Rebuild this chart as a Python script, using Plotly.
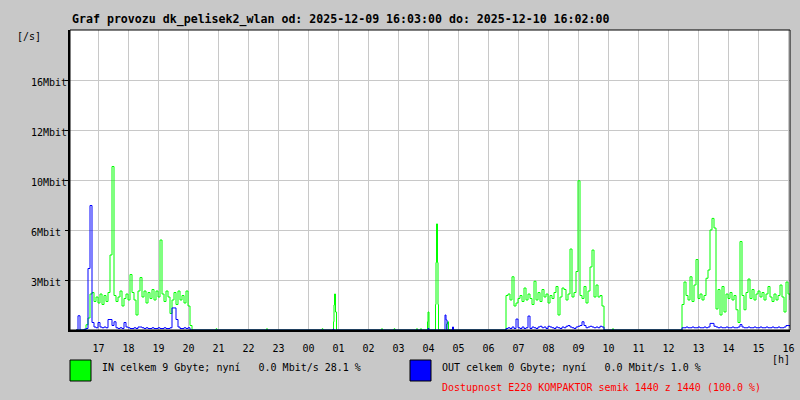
import pandas as pd
import plotly.graph_objects as go

# ---------------- data (Mbit/s) ----------------
STEP = "4min"

blk1_start = "2025-12-09 16:15"
blk1_in = [0, 0, 0, 0, 0, 0.35, 0.8, 2.4, 2.5, 1.9, 2.2, 1.8, 2.4, 1.7, 2.3, 1.9,
           2.5, 5.0, 10.9, 2.3, 1.9, 2.2, 2.6, 1.6, 2.1, 2.4, 2.0, 3.7, 2.5, 2.0,
           1.0, 2.6, 3.5, 2.2, 2.6, 1.8, 2.5, 2.1, 2.7, 2.0, 2.6, 2.2, 6.0, 2.4,
           1.9, 2.6, 2.2, 1.1, 2.0, 2.5, 1.7, 2.6, 2.0, 2.3, 1.8, 2.6, 1.6, 0.3, 0]
blk1_out = [0, 0.95, 0, 0, 0.05, 0.1, 4.1, 8.3, 0.5, 0.2, 0.15, 0.5, 0.2, 0.15, 0.2,
            0.15, 0.7, 0.7, 0.3, 0.55, 0.15, 0.1, 0.15, 0.1, 0.5, 0.2, 0.15, 0.1,
            0.1, 0.15, 0.1, 0.2, 0.2, 0.15, 0.1, 0.15, 0.1, 0.1, 0.15, 0.1, 0.1,
            0.15, 0.1, 0.1, 0.15, 0.1, 0.1, 0.15, 1.47, 1.47, 0.7, 0.2, 0.1, 0.1,
            0.15, 0.1, 0.15, 0, 0]

blk2_start = "2025-12-10 06:35"
blk2_in = [2.3, 2.4, 2.0, 3.55, 1.6, 1.8, 2.1, 2.3, 1.9, 2.8, 2.0, 2.4, 2.1, 1.7,
           3.25, 2.0, 2.5, 1.9, 2.7, 2.2, 2.4, 1.8, 2.3, 2.1, 2.5, 2.9, 1.0, 2.2,
           2.8, 2.7, 2.0, 2.4, 5.4, 2.2, 2.5, 3.9, 9.95, 2.3, 2.1, 2.9, 1.8, 2.6,
           4.2, 5.33, 2.2, 3.0, 2.2, 2.3, 1.6, 0]
blk2_out = [0.1, 0.15, 0.1, 0.2, 0.1, 0.73, 0.15, 0.1, 0.2, 0.1, 0.15, 0.93, 0.1,
            0.2, 0.15, 0.1, 0.2, 0.25, 0.15, 0.2, 0.1, 0.25, 0.2, 0.15, 0.1, 0.2,
            0.15, 0.1, 0.2, 0.15, 0.25, 0.3, 0.2, 0.15, 0.1, 0.2, 0.25, 0.3, 0.55,
            0.3, 0.15, 0.2, 0.25, 0.2, 0.15, 0.2, 0.15, 0.25, 0.2, 0]

blk3_start = "2025-12-10 12:27"
blk3_in = [1.7, 3.2, 2.3, 2.0, 3.55, 1.9, 3.0, 4.7, 2.1, 2.4, 2.0, 2.3, 3.45, 4.0,
           6.67, 7.44, 6.8, 1.4, 2.7, 1.0, 2.9, 1.2, 2.4, 2.1, 2.5, 2.0, 2.3, 1.35,
           0.5, 5.9, 2.3, 1.35, 2.5, 3.4, 2.1, 2.7, 2.0, 2.4, 2.6, 2.2, 2.5, 2.0,
           2.4, 2.9, 2.2, 1.9, 2.4, 2.0, 2.3, 3.0, 2.2, 1.2, 3.2, 2.4, 2.0]
blk3_out = [0.15, 0.15, 0.2, 0.15, 0.15, 0.2, 0.15, 0.15, 0.2, 0.15, 0.15, 0.2,
            0.15, 0.2, 0.44, 0.44, 0.25, 0.2, 0.15, 0.2, 0.15, 0.15, 0.2, 0.15,
            0.15, 0.2, 0.15, 0.15, 0.2, 0.36, 0.2, 0.15, 0.15, 0.2, 0.15, 0.15,
            0.2, 0.15, 0.15, 0.2, 0.15, 0.15, 0.2, 0.15, 0.15, 0.2, 0.15, 0.15,
            0.2, 0.15, 0.15, 0.2, 0.3, 0.3, 0.15]

sparse_in_t = ["2025-12-09 20:55", "2025-12-09 20:57", "2025-12-09 22:36", "2025-12-09 22:38",
               "2025-12-10 00:27", "2025-12-10 00:29",
               "2025-12-10 00:50", "2025-12-10 00:51", "2025-12-10 00:52", "2025-12-10 00:54",
               "2025-12-10 00:56",
               "2025-12-10 02:26", "2025-12-10 02:28", "2025-12-10 02:51", "2025-12-10 02:53",
               "2025-12-10 03:36", "2025-12-10 03:38", "2025-12-10 03:44", "2025-12-10 03:46",
               "2025-12-10 03:58", "2025-12-10 03:59", "2025-12-10 04:01",
               "2025-12-10 04:14", "2025-12-10 04:15", "2025-12-10 04:16", "2025-12-10 04:18",
               "2025-12-10 04:19", "2025-12-10 04:20",
               "2025-12-10 04:36", "2025-12-10 04:38", "2025-12-10 04:40",
               "2025-12-10 10:08", "2025-12-10 10:10"]
sparse_in_v = [0.08, 0, 0.08, 0, 0.08, 0,
               0.55, 1.67, 2.4, 1.2, 0,
               0.08, 0, 0.08, 0, 0.08, 0, 0.08, 0,
               0.55, 1.2, 0,
               1.7, 4.5, 7.07, 4.5, 1.7, 0,
               0.4, 0.55, 0,
               0.08, 0]

sparse_out_t = ["2025-12-10 00:49", "2025-12-10 00:51", "2025-12-10 03:59", "2025-12-10 04:01",
                "2025-12-10 04:33", "2025-12-10 04:35", "2025-12-10 04:37",
                "2025-12-10 04:48", "2025-12-10 04:50"]
sparse_out_v = [0.05, 0, 0.1, 0, 1.0, 0.67, 0, 0.2, 0]

x_start = "2025-12-09 16:03"
x_end = "2025-12-10 16:03"
y_tick_vals = [10 / 3, 20 / 3, 10, 40 / 3, 50 / 3]
y_tick_text = ["3Mbit", "6Mbit", "10Mbit", "12Mbit", "16Mbit"]

title_text = "Graf provozu dk_pelisek2_wlan od: 2025-12-09 16:03:00 do: 2025-12-10 16:02:00"
in_text = "IN celkem 9 Gbyte; nyní   0.0 Mbit/s 28.1 %"
out_text = "OUT celkem 0 Gbyte; nyní   0.0 Mbit/s 1.0 %"
avail_text = "Dostupnost E220 KOMPAKTOR semik 1440 z 1440 (100.0 %)"


def build(blocks, st, sv):
    parts = []
    for start, vals in blocks:
        t = pd.date_range(start, periods=len(vals), freq=STEP)
        parts.append(pd.Series(vals, index=t))
    parts.append(pd.Series(sv, index=pd.to_datetime(st)))
    s = pd.concat(parts).sort_index()
    return s


s_in = build([(blk1_start, blk1_in), (blk2_start, blk2_in), (blk3_start, blk3_in)],
             sparse_in_t, sparse_in_v)
s_out = build([(blk1_start, blk1_out), (blk2_start, blk2_out), (blk3_start, blk3_out)],
              sparse_out_t, sparse_out_v)

FONT = "DejaVu Sans Mono"
BG = "#c8c8c8"
GRID = "#c8c8c8"

fig = go.Figure()
fig.add_trace(go.Scatter(x=s_in.index, y=s_in.values, mode="lines",
                         line=dict(color="#00ff00", width=1, shape="hv"),
                         showlegend=False, hoverinfo="skip"))
fig.add_trace(go.Scatter(x=s_out.index, y=s_out.values, mode="lines",
                         line=dict(color="#0000ff", width=1, shape="hv"),
                         showlegend=False, hoverinfo="skip"))

L, R, T, B = 70, 790, 30, 330


def px(x):
    return (x - L) / (R - L)


def py(y):
    return (B - y) / (B - T)


fig.update_layout(
    width=800, height=400,
    margin=dict(l=L, r=800 - R, t=T, b=400 - B, pad=0, autoexpand=False),
    paper_bgcolor=BG, plot_bgcolor="white",
    font=dict(family=FONT, size=10, color="black"),
    xaxis=dict(type="date", range=[x_start, x_end], dtick=3600000,
               tick0="2025-12-09 17:00", tickformat="%H", showgrid=True,
               gridcolor=GRID, gridwidth=1, showline=True, linecolor="black",
               linewidth=2, ticks="", zeroline=False, ticklabelstandoff=8,
               automargin=False,
               tickfont=dict(family=FONT, size=10, color="black")),
    yaxis=dict(range=[0, 20], tickvals=y_tick_vals, ticktext=[""] * 5,
               showgrid=True, gridcolor=GRID, gridwidth=1, showline=True,
               linecolor="black", linewidth=2, ticks="outside", ticklen=3,
               tickcolor="black", zeroline=False, automargin=False),
)

shapes = [
    dict(type="rect", xref="paper", yref="paper", x0=0, x1=1, y0=0, y1=1,
         line=dict(color="black", width=1)),
    dict(type="rect", xref="paper", yref="paper", x0=px(70), x1=px(91),
         y0=py(381), y1=py(360), fillcolor="#00ff00", line=dict(color="black", width=1)),
    dict(type="rect", xref="paper", yref="paper", x0=px(410), x1=px(431),
         y0=py(381), y1=py(360), fillcolor="#0000ff", line=dict(color="black", width=1)),
]
fig.update_layout(shapes=shapes)

ann = []
for v, t in zip(y_tick_vals, y_tick_text):
    ann.append(dict(x=px(29), y=v, xref="paper", yref="y", text=t, showarrow=False,
                    xanchor="left", yanchor="middle", yshift=-2,
                    font=dict(family=FONT, size=10, color="black")))
ann += [
    dict(x=px(70), y=py(19), text="<b>" + title_text + "</b>", xanchor="left",
         yanchor="middle", font=dict(family=FONT, size=11.6, color="black")),
    dict(x=px(15), y=py(37), text="[/s]", xanchor="left", yanchor="middle"),
    dict(x=px(770), y=py(359), text="[h]", xanchor="left", yanchor="middle"),
    dict(x=px(100), y=py(367), text=in_text, xanchor="left", yanchor="middle"),
    dict(x=px(440), y=py(367), text=out_text, xanchor="left", yanchor="middle"),
    dict(x=px(440), y=py(387), text=avail_text, xanchor="left", yanchor="middle",
         font=dict(family=FONT, size=10, color="#ff0000")),
]
for a in ann[5:]:
    a.update(xref="paper", yref="paper", showarrow=False)
    a.setdefault("font", dict(family=FONT, size=10, color="black"))
fig.update_layout(annotations=ann)

fig.write_html("out.html", config={"displayModeBar": False},
               post_script="document.body.style.margin='0';"
                           "document.body.style.background='%s';" % BG)
